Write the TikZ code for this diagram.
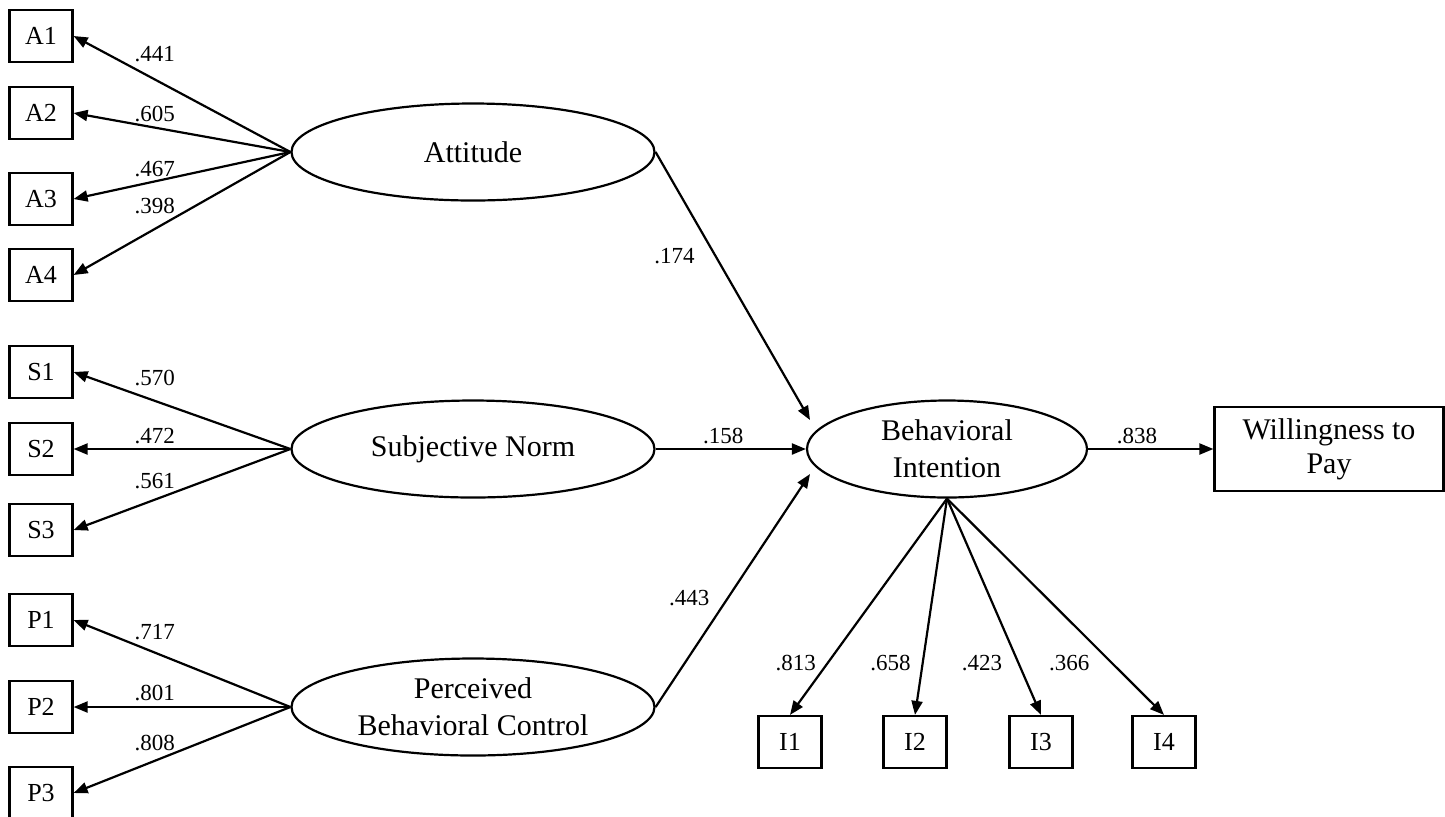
\documentclass[tikz,border=0pt]{standalone}
\usepackage{fontspec}
\setmainfont{Liberation Serif}
\usetikzlibrary{shapes.geometric,arrows.meta}

\begin{document}
\begin{tikzpicture}[x=0.5pt,y=-0.5pt,
  ind/.style={draw, line width=1.1pt, minimum width=31.5pt, minimum height=26pt, inner sep=0pt, font=\fontsize{13}{15}\selectfont},
  lat/.style={draw, ellipse, line width=1.1pt, minimum width=181.5pt, minimum height=48.5pt, inner sep=0pt, align=center, font=\fontsize{15}{18.5}\selectfont},
  lbl/.style={inner sep=2pt, font=\fontsize{11.5}{13}\selectfont},
  arr/.style={-{Triangle[length=7pt,width=5.5pt]}, line width=1.1pt}]
\useasboundingbox (0,0) rectangle (1445,816);

\node[ind] (a1) at (41,36) {A1};
\node[ind] (a2) at (41,113) {A2};
\node[ind] (a3) at (41,199) {A3};
\node[ind] (a4) at (41,275) {A4};
\node[ind] (s1) at (41,372) {S1};
\node[ind] (s2) at (41,449) {S2};
\node[ind] (s3) at (41,530) {S3};
\node[ind] (p1) at (41,620) {P1};
\node[ind] (p2) at (41,707) {P2};
\node[ind] (p3) at (41,793) {P3};

\node[lat] (att) at (473,152) {Attitude};
\node[lat] (sn) at (473,449) {Subjective Norm};
\node[lat] (pbc) at (473,707) {Perceived\\Behavioral Control};
\node[lat, minimum width=140pt] (bi) at (947,449) {Behavioral\\Intention};
\node[ind, minimum width=114.5pt, minimum height=42pt, align=center, font=\fontsize{15}{17}\selectfont] (wtp) at (1329,449) {Willingness to\\Pay};

\node[ind] (i1) at (790,742) {I1};
\node[ind] (i2) at (915,742) {I2};
\node[ind] (i3) at (1041,742) {I3};
\node[ind] (i4) at (1164,742) {I4};

\coordinate (bi-a) at (810,420);
\coordinate (bi-p) at (810,474);

% loadings
\path[draw,arr] (att.west) -- node[lbl,pos=0.626,above=6pt] {.441} (a1.east);
\path[draw,arr] (att.west) -- node[lbl,pos=0.626,above=0.4pt] {.605} (a2.east);
\path[draw,arr] (att.west) -- node[lbl,pos=0.626,above] {.467} (a3.east);
\path[draw,arr] (att.west) -- node[lbl,pos=0.626,above=5pt] {.398} (a4.east);
\path[draw,arr] (sn.west) -- node[lbl,pos=0.626,above=5pt] {.570} (s1.east);
\path[draw,arr] (sn.west) -- node[lbl,pos=0.626,above] {.472} (s2.east);
\path[draw,arr] (sn.west) -- node[lbl,pos=0.626,above=3pt] {.561} (s3.east);
\path[draw,arr] (pbc.west) -- node[lbl,pos=0.626,above=3.9pt] {.717} (p1.east);
\path[draw,arr] (pbc.west) -- node[lbl,pos=0.626,above=0.6pt] {.801} (p2.east);
\path[draw,arr] (pbc.west) -- node[lbl,pos=0.626,above=2.5pt] {.808} (p3.east);

% paths
\path[draw,arr] (att.east) -- node[lbl,pos=0.39,left=8pt] {.174} (bi-a);
\path[draw,arr] (sn.east) -- node[lbl,pos=0.45,above] {.158} (bi.west);
\path[draw,arr] (pbc.east) -- node[lbl,pos=0.466,left=6.5pt] {.443} (bi-p);
\path[draw,arr] (bi.east) -- node[lbl,pos=0.39,above] {.838} (wtp.west);

\path[draw,arr] (bi.south) -- node[lbl,pos=0.758,left=3.5pt] {.813} (i1.north);
\path[draw,arr] (bi.south) -- node[lbl,pos=0.758,left=3.5pt] {.658} (i2.north);
\path[draw,arr] (bi.south) -- node[lbl,pos=0.758,left=5.5pt] {.423} (i3.north);
\path[draw,arr] (bi.south) -- node[lbl,pos=0.758,left=8.5pt] {.366} (i4.north);
\end{tikzpicture}
\end{document}
